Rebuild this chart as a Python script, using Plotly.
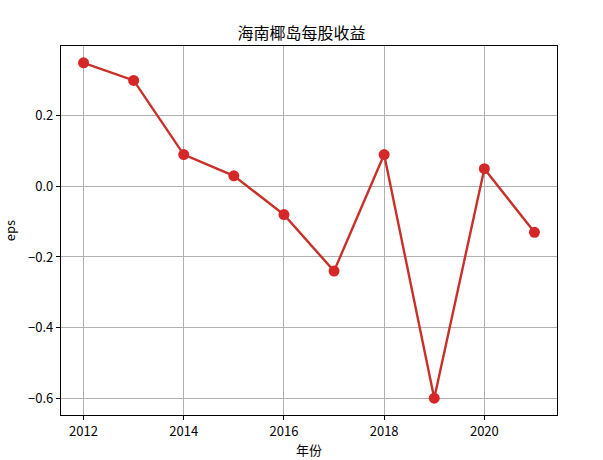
import plotly.graph_objects as go

years = [2012, 2013, 2014, 2015, 2016, 2017, 2018, 2019, 2020, 2021]
eps = [0.35, 0.30, 0.09, 0.03, -0.08, -0.24, 0.09, -0.60, 0.05, -0.13]
x_ticks = [2012, 2014, 2016, 2018, 2020]
y_ticks = [-0.6, -0.4, -0.2, 0.0, 0.2]

font = "Noto Sans CJK SC, SimHei, sans-serif"

fig = go.Figure()
fig.add_trace(go.Scatter(
    x=years, y=eps, mode="lines+markers",
    line=dict(color="#c8302a", width=2.4),
    marker=dict(color="#d62728", size=11),
    showlegend=False,
))

axis_common = dict(
    showline=True, linecolor="black", linewidth=1.2, mirror=True,
    ticks="outside", ticklen=4, tickcolor="black", tickwidth=1,
    showgrid=True, gridcolor="#b0b0b0", gridwidth=1,
    zeroline=False, automargin=False,
    tickfont=dict(family=font, size=13, color="black"),
)

fig.update_layout(
    width=603, height=460,
    margin=dict(l=61, r=46, t=46, b=45),
    paper_bgcolor="white", plot_bgcolor="white",
    title=dict(text="海南椰岛每股收益", x=0.5, xanchor="center", y=1 - 33/460, yanchor="middle",
               font=dict(family=font, size=16, color="black")),
    xaxis=dict(range=[2011.55, 2021.45], tickvals=x_ticks,
               title=dict(text="年份", font=dict(family=font, size=13, color="black"), standoff=2),
               **axis_common),
    yaxis=dict(range=[-0.6475, 0.3975], tickvals=y_ticks, tickformat=".1f",
               title=dict(text="eps", font=dict(family=font, size=13, color="black")),
               **axis_common),
)

fig.write_html("out.html", post_script="document.body.style.margin='0px';",
               config={"displayModeBar": False})
